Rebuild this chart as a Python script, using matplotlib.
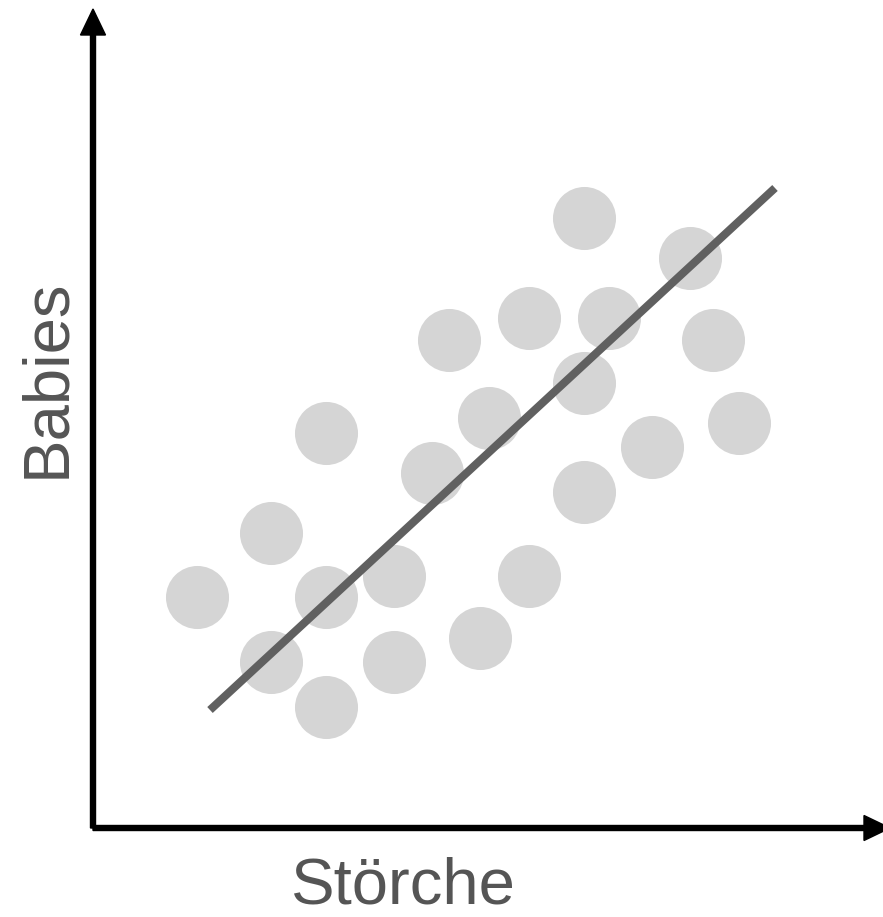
import matplotlib.pyplot as plt

# storks (x) vs babies (y), arbitrary units measured from the origin
storks = [491, 597, 356, 436, 516, 620, 491, 396, 233, 646, 559,
          339, 491, 178, 104, 233, 301, 436, 178, 301, 387, 233]
babies = [610, 570, 488, 510, 510, 488, 445, 410, 395, 405, 381,
          355, 336, 295, 231, 231, 252, 252, 166, 166, 190, 121]

# fitted trend line end points
line_x = [117, 682]
line_y = [118, 640]

x_label = "Störche"
y_label = "Babies"

plt.rcParams['font.family'] = ['Liberation Sans', 'DejaVu Sans']

fig = plt.figure(figsize=(8.83, 9.17), dpi=100)
ax = fig.add_axes([0, 0, 1, 1])
ax.set_xlim(-93, 790)
ax.set_ylim(-89, 828)
ax.axis("off")

ax.scatter(storks, babies, s=2061, color="#d5d5d5", linewidths=0, zorder=2)
ax.plot(line_x, line_y, color="#606060", lw=5.8, solid_capstyle="butt", zorder=3)

# axis arrows
ax.arrow(0, 0, 0, 819, width=5, head_width=25, head_length=26,
         length_includes_head=True, color="black", zorder=4)
ax.arrow(0, 0, 797, 0, width=5, head_width=25, head_length=26,
         length_includes_head=True, color="black", zorder=4)

ax.text(310, -75, x_label, fontsize=47, color="#555555", ha="center", va="baseline")
ax.text(-46, 450, y_label, fontsize=47, color="#555555", ha="center", va="center",
        rotation=90)

fig.savefig("out.png", dpi=100)
